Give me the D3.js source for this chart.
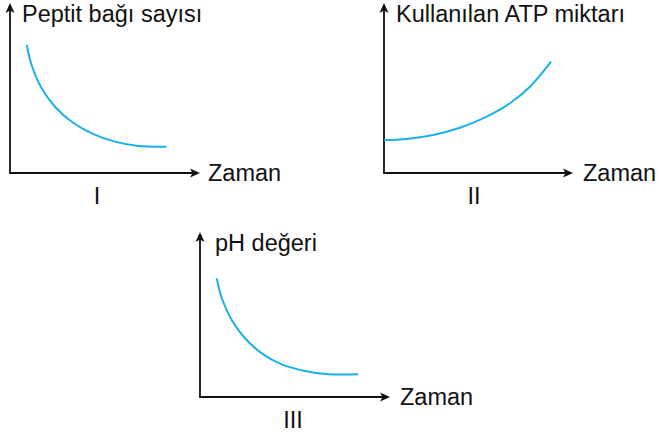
<!DOCTYPE html>
<html>
<head>
<meta charset="utf-8">
<script src="https://cdn.jsdelivr.net/npm/d3@7"></script>
<style>
  html, body { margin: 0; padding: 0; background: #fff; }
  svg text { font-family: 'Liberation Sans', Arial, sans-serif; font-size: 23.5px; fill: #111; }
</style>
</head>
<body>
<div id="chart"></div>
<script>
(function () {
  'use strict';

  // values (time 0-10, arbitrary units 0-10)
  var timeI = [0.93, 1.2, 1.76, 2.5, 3.43, 4.54, 5.83, 7.13, 8.7];
  var peptitBonds = [8.0, 6.75, 5.29, 4.14, 3.2, 2.48, 1.96, 1.69, 1.64];

  var timeII = [0, 1.26, 2.74, 4.22, 5.71, 7.0, 8.11, 9.28];
  var atpUsed = [2.06, 2.13, 2.38, 2.83, 3.52, 4.36, 5.39, 6.96];

  var timeIII = [0.93, 1.21, 1.76, 2.5, 3.43, 4.54, 5.83, 7.13, 8.79];
  var phValues = [7.42, 6.17, 4.81, 3.67, 2.73, 2.04, 1.63, 1.42, 1.42];

  var yTitles = ['Peptit bağı sayısı', 'Kullanılan ATP miktarı', 'pH değeri'];
  var romans = ['I', 'II', 'III'];
  var xTitle = 'Zaman';

  var width = 659,
    height = 436,
    curveColor = '#1ab1ea';

  var panels = [
    {ox: 10, oy: 173, xLen: 190, yLen: 170, romanX: 97, time: timeI, values: peptitBonds},
    {ox: 384, oy: 173, xLen: 189, yLen: 170, romanX: 474, time: timeII, values: atpUsed},
    {ox: 200, oy: 397, xLen: 190, yLen: 165, romanX: 293, time: timeIII, values: phValues}
  ];

  var svg = d3.select('#chart')
    .append('svg')
    .attr('width', width)
    .attr('height', height);

  panels.forEach(function (p, i) {
    var x = d3.scaleLinear().domain([0, 10]).range([p.ox, p.ox + 180]);
    var y = d3.scaleLinear().domain([0, 10]).range([p.oy, p.oy - 160]);

    var g = svg.append('g').attr('class', 'panel');

    // axes
    g.append('path')
      .attr('d', 'M' + [p.ox, p.oy - p.yLen + 6] + 'L' + [p.ox, p.oy] + 'L' + [p.ox + p.xLen - 6, p.oy])
      .attr('fill', 'none')
      .attr('stroke', '#111')
      .attr('stroke-width', 1.8);

    // arrow heads
    var tipX = p.ox + p.xLen, tipY = p.oy - p.yLen;
    g.append('path')
      .attr('d', 'M' + [tipX, p.oy] + 'L' + [tipX - 10, p.oy - 4.5] + 'L' + [tipX - 7.5, p.oy] + 'L' + [tipX - 10, p.oy + 4.5] + 'Z')
      .attr('fill', '#111');
    g.append('path')
      .attr('d', 'M' + [p.ox, tipY] + 'L' + [p.ox - 4.5, tipY + 10] + 'L' + [p.ox, tipY + 7.5] + 'L' + [p.ox + 4.5, tipY + 10] + 'Z')
      .attr('fill', '#111');

    // curve
    var line = d3.line()
      .x(function (d) { return x(d[0]); })
      .y(function (d) { return y(d[1]); })
      .curve(d3.curveCatmullRom);

    g.append('path')
      .datum(d3.zip(p.time, p.values))
      .attr('d', line)
      .attr('fill', 'none')
      .attr('stroke', curveColor)
      .attr('stroke-width', 2);

    // texts
    g.append('text')
      .attr('x', p.ox + (i === 2 ? 15 : 12))
      .attr('y', tipY + 19)
      .text(yTitles[i]);

    g.append('text')
      .attr('x', tipX + (i === 0 ? 8 : 10))
      .attr('y', p.oy + 7.5)
      .text(xTitle);

    g.append('text')
      .attr('x', p.romanX)
      .attr('y', p.oy + 31)
      .attr('text-anchor', 'middle')
      .text(romans[i]);
  });
}());
</script>
</body>
</html>
